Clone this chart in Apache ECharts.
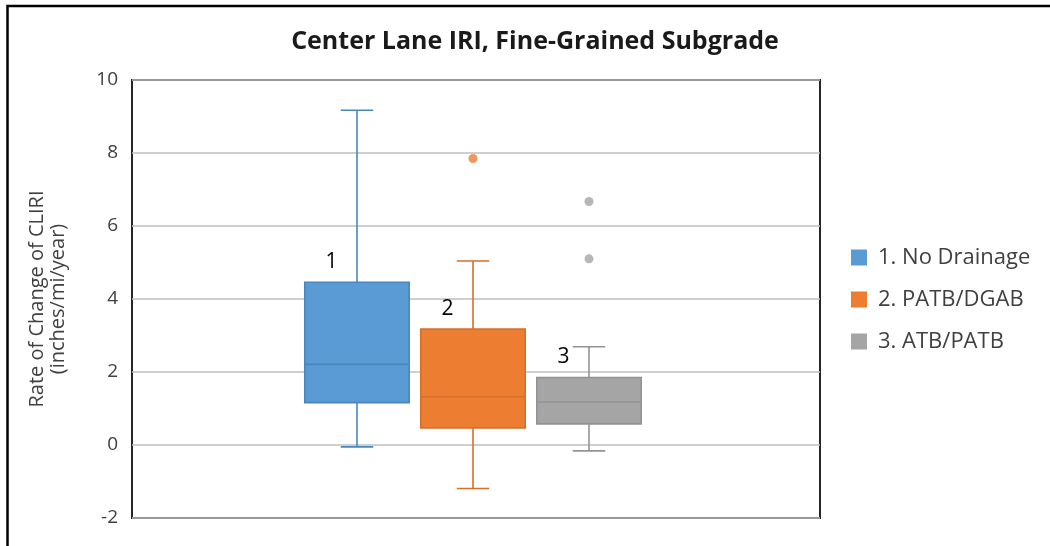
<!DOCTYPE html>
<html>
<head>
<meta charset="utf-8">
<script src="https://cdn.jsdelivr.net/npm/echarts@6/dist/echarts.min.js"></script>
<style>
  html, body { margin: 0; padding: 0; background: #ffffff; }
  #chart { width: 1050px; height: 546px; }
</style>
</head>
<body>
<div id="chart"></div>
<script>
// ---- data ----
const categories = ['1. No Drainage', '2. PATB/DGAB', '3. ATB/PATB'];
const boxLabels = ['1', '2', '3'];
const lowWhisker = [-0.05, -1.19, -0.16];
const q1 = [1.16, 0.47, 0.58];
const median = [2.21, 1.32, 1.18];
const q3 = [4.46, 3.18, 1.85];
const highWhisker = [9.17, 5.04, 2.69];
const outliers = [[], [7.85], [6.67, 5.10]];
const yMin = -2, yMax = 10, yStep = 2;

// ---- styles ----
const fills = ['#5B9BD5', '#ED7D31', '#A5A5A5'];
const strokes = ['#4A86BE', '#D5702B', '#939393'];
const FONT = '"Open Sans", Lato, sans-serif';

const chart = echarts.init(document.getElementById('chart'));

function makeRender(i) {
  return function (params, api) {
    const x = api.value(0);
    const pMin = api.coord([x, api.value(1)]);
    const pQ1 = api.coord([x, api.value(2)]);
    const pMed = api.coord([x, api.value(3)]);
    const pQ3 = api.coord([x, api.value(4)]);
    const pMax = api.coord([x, api.value(5)]);
    const band = api.size([1, 0])[0];
    const bw = band * 0.9;
    const cw = band * 0.28;
    const cx = pMed[0];
    const lineStyle = { stroke: strokes[i], lineWidth: 1.6 };
    return {
      type: 'group',
      children: [
        { type: 'line', shape: { x1: cx, y1: pQ3[1], x2: cx, y2: pMax[1] }, style: lineStyle },
        { type: 'line', shape: { x1: cx, y1: pQ1[1], x2: cx, y2: pMin[1] }, style: lineStyle },
        { type: 'line', shape: { x1: cx - cw / 2, y1: pMax[1], x2: cx + cw / 2, y2: pMax[1] }, style: lineStyle },
        { type: 'line', shape: { x1: cx - cw / 2, y1: pMin[1], x2: cx + cw / 2, y2: pMin[1] }, style: lineStyle },
        { type: 'rect', shape: { x: cx - bw / 2, y: pQ3[1], width: bw, height: pQ1[1] - pQ3[1] },
          style: { fill: fills[i], stroke: strokes[i], lineWidth: 1.6 } },
        { type: 'line', shape: { x1: cx - bw / 2, y1: pMed[1], x2: cx + bw / 2, y2: pMed[1] }, style: lineStyle },
        { type: 'text', x: cx - band * 0.22, y: pQ3[1] - 20,
          style: { text: boxLabels[i], fill: '#000000', font: '21px ' + FONT, align: 'center', verticalAlign: 'middle' } }
      ]
    };
  };
}

const series = [];
categories.forEach(function (name, i) {
  series.push({
    name: name,
    type: 'custom',
    xAxisIndex: 1,
    yAxisIndex: 1,
    itemStyle: { color: fills[i] },
    renderItem: makeRender(i),
    data: [[i, lowWhisker[i], q1[i], median[i], q3[i], highWhisker[i]]],
    z: 3
  });
});
categories.forEach(function (name, i) {
  if (!outliers[i].length) return;
  series.push({
    name: name,
    type: 'scatter',
    xAxisIndex: 1,
    yAxisIndex: 1,
    symbol: 'circle',
    symbolSize: 9,
    itemStyle: { color: fills[i] },
    data: outliers[i].map(function (v) { return [i, v]; }),
    z: 4
  });
});

const option = {
  backgroundColor: '#ffffff',
  animation: false,
  title: {
    text: 'Center Lane IRI, Fine-Grained Subgrade',
    left: 535, top: 29, textAlign: 'center', padding: 0,
    textStyle: { fontFamily: FONT, fontSize: 25, fontWeight: 'bold', color: '#1a1a1a' }
  },
  legend: {
    orient: 'vertical',
    left: 851, top: 246, padding: 0,
    itemWidth: 16, itemHeight: 16, itemGap: 19,
    icon: 'rect',
    data: categories,
    textStyle: { fontFamily: FONT, fontSize: 22, color: '#404040', lineHeight: 23, padding: [0, 0, 0, 6] }
  },
  graphic: [{
    type: 'polyline',
    shape: { points: [[7.5, 546], [7.5, 6], [1050, 6]] },
    style: { stroke: '#000000', lineWidth: 2.5, fill: null },
    silent: true
  }],
  grid: [
    { left: 132, right: 230, top: 80, bottom: 28, show: true, borderColor: '#262626', borderWidth: 2, backgroundColor: 'transparent' },
    { left: 299, right: 403, top: 80, bottom: 28 }
  ],
  xAxis: [
    { type: 'category', gridIndex: 0, data: [''], axisLine: { show: false }, axisTick: { show: false }, axisLabel: { show: false } },
    { type: 'category', gridIndex: 1, data: categories, show: false }
  ],
  yAxis: [
    {
      type: 'value', gridIndex: 0, min: yMin, max: yMax, interval: yStep,
      name: 'Rate of Change of CLIRI\n(inches/mi/year)',
      nameLocation: 'middle', nameGap: 63,
      nameTextStyle: { fontFamily: FONT, fontSize: 20, color: '#404040', lineHeight: 21 },
      axisLine: { show: false }, axisTick: { show: false },
      axisLabel: { fontFamily: FONT, fontSize: 19, color: '#404040', margin: 14 },
      splitLine: { lineStyle: { color: '#BFBFBF', width: 1.5 } }
    },
    { type: 'value', gridIndex: 1, min: yMin, max: yMax, interval: yStep, show: false, splitLine: { show: false } }
  ],
  series: series
};
chart.setOption(option);
</script>
</body>
</html>
